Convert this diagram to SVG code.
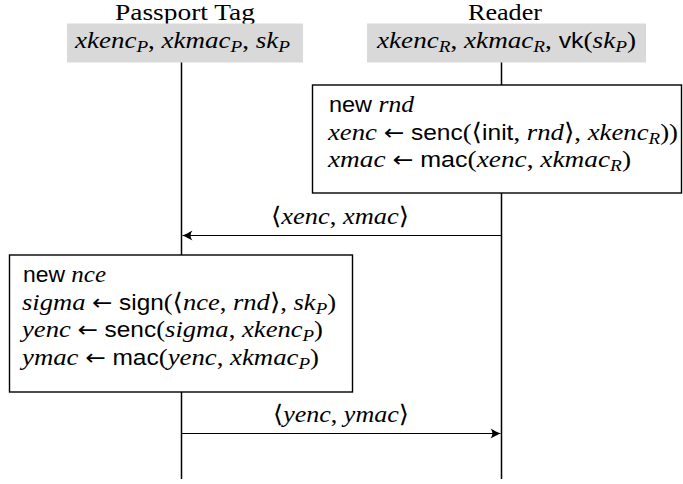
<svg xmlns="http://www.w3.org/2000/svg" width="683" height="484" viewBox="0 0 683 484">
<style>
.t{font-family:"Liberation Serif","DejaVu Serif",serif;font-size:24px;fill:#000}
.i{font-family:"Liberation Serif","DejaVu Serif",serif;font-style:oblique;font-size:24px}
.s{font-family:"Liberation Sans","DejaVu Sans",sans-serif;font-size:22px;font-style:normal}
.a{font-family:"DejaVu Sans",sans-serif;font-size:22px;font-style:normal}
.sub{font-size:17px}
.hd{fill:#d9d9d9;stroke:none}
.life{stroke:#000;stroke-width:1.5;fill:none}
.box{fill:#fff;stroke:#000;stroke-width:1.4}
.msg{stroke:#000;stroke-width:1.2;fill:none}
</style>
<defs>
<marker id="ah" markerUnits="userSpaceOnUse" markerWidth="14" markerHeight="12" viewBox="-11 -6 12 12" refX="0" refY="0" orient="auto">
<path d="M0,0 C-3,-1 -6,-3 -10,-5 C-7.5,-2 -7.5,2 -10,5 C-6,3 -3,1 0,0 Z" fill="#000"/>
</marker>
</defs>

<g id="passport">
<text class="t" x="115" y="19.5" font-size="22" textLength="140" lengthAdjust="spacingAndGlyphs">Passport Tag</text>
<rect class="hd" x="67" y="23.5" width="236" height="39"/>
<text class="t" x="75" y="48" textLength="215" lengthAdjust="spacingAndGlyphs"><tspan class="i">xkenc</tspan><tspan class="i sub" dy="4">P</tspan><tspan dy="-4">, </tspan><tspan class="i">xkmac</tspan><tspan class="i sub" dy="4">P</tspan><tspan dy="-4">, </tspan><tspan class="i">sk</tspan><tspan class="i sub" dy="4">P</tspan></text>
</g>

<g id="reader">
<text class="t" x="468" y="19.5" font-size="22" textLength="74" lengthAdjust="spacingAndGlyphs">Reader</text>
<rect class="hd" x="367" y="23.5" width="279" height="39"/>
<text class="t" x="377" y="48" textLength="259" lengthAdjust="spacingAndGlyphs"><tspan class="i">xkenc</tspan><tspan class="i sub" dy="4">R</tspan><tspan dy="-4">, </tspan><tspan class="i">xkmac</tspan><tspan class="i sub" dy="4">R</tspan><tspan dy="-4">, </tspan><tspan class="s">vk</tspan>(<tspan class="i">sk</tspan><tspan class="i sub" dy="4">P</tspan><tspan dy="-4">)</tspan></text>
</g>

<g id="lifelines">
<line class="life" x1="181.5" y1="62.5" x2="181.5" y2="255"/>
<line class="life" x1="181.5" y1="392" x2="181.5" y2="479"/>
<line class="life" x1="501.5" y1="62.5" x2="501.5" y2="85"/>
<line class="life" x1="501.5" y1="193" x2="501.5" y2="479"/>
</g>

<g id="reader-step">
<rect class="box" x="312.5" y="85" width="369" height="108"/>
<text class="t" x="329" y="112" textLength="85" lengthAdjust="spacingAndGlyphs"><tspan class="s">new</tspan> <tspan class="i">rnd</tspan></text>
<text class="t" x="328" y="139.5" textLength="350" lengthAdjust="spacingAndGlyphs"><tspan class="i">xenc</tspan> <tspan class="a">←</tspan> <tspan class="s">senc</tspan>(⟨<tspan class="s">init</tspan>, <tspan class="i">rnd</tspan>⟩, <tspan class="i">xkenc</tspan><tspan class="i sub" dy="4">R</tspan><tspan dy="-4">))</tspan></text>
<text class="t" x="328" y="167" textLength="303" lengthAdjust="spacingAndGlyphs"><tspan class="i">xmac</tspan> <tspan class="a">←</tspan> <tspan class="s">mac</tspan>(<tspan class="i">xenc</tspan>, <tspan class="i">xkmac</tspan><tspan class="i sub" dy="4">R</tspan><tspan dy="-4">)</tspan></text>
</g>

<g id="passport-step">
<rect class="box" x="9.5" y="255" width="343" height="137"/>
<text class="t" x="23" y="282" textLength="83" lengthAdjust="spacingAndGlyphs"><tspan class="s">new</tspan> <tspan class="i">nce</tspan></text>
<text class="t" x="22" y="309.5" textLength="314" lengthAdjust="spacingAndGlyphs"><tspan class="i">sigma</tspan> <tspan class="a">←</tspan> <tspan class="s">sign</tspan>(⟨<tspan class="i">nce</tspan>, <tspan class="i">rnd</tspan>⟩, <tspan class="i">sk</tspan><tspan class="i sub" dy="4">P</tspan><tspan dy="-4">)</tspan></text>
<text class="t" x="22" y="337" textLength="301" lengthAdjust="spacingAndGlyphs"><tspan class="i">yenc</tspan> <tspan class="a">←</tspan> <tspan class="s">senc</tspan>(<tspan class="i">sigma</tspan>, <tspan class="i">xkenc</tspan><tspan class="i sub" dy="4">P</tspan><tspan dy="-4">)</tspan></text>
<text class="t" x="22" y="364.5" textLength="297" lengthAdjust="spacingAndGlyphs"><tspan class="i">ymac</tspan> <tspan class="a">←</tspan> <tspan class="s">mac</tspan>(<tspan class="i">yenc</tspan>, <tspan class="i">xkmac</tspan><tspan class="i sub" dy="4">P</tspan><tspan dy="-4">)</tspan></text>
</g>

<g id="connectors">
<line class="msg" x1="501.5" y1="235.5" x2="182.5" y2="235.5" marker-end="url(#ah)"/>
<text class="t" x="271" y="224" textLength="138" lengthAdjust="spacingAndGlyphs">⟨<tspan class="i">xenc</tspan>, <tspan class="i">xmac</tspan>⟩</text>
<line class="msg" x1="181.5" y1="433.5" x2="500.5" y2="433.5" marker-end="url(#ah)"/>
<text class="t" x="273" y="422" textLength="136" lengthAdjust="spacingAndGlyphs">⟨<tspan class="i">yenc</tspan>, <tspan class="i">ymac</tspan>⟩</text>
</g>
</svg>
